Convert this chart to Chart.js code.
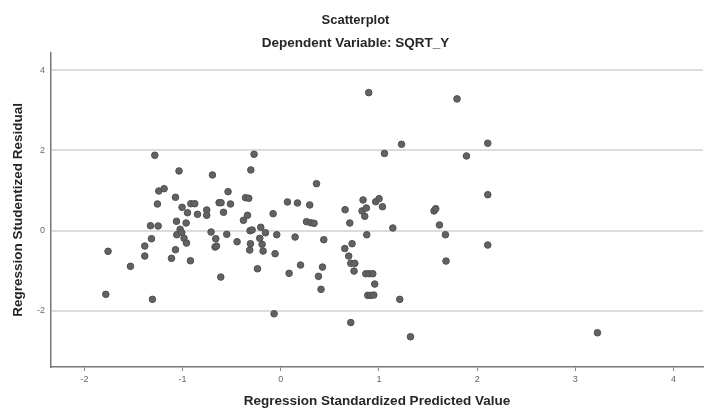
<!DOCTYPE html>
<html>
<head>
<meta charset="utf-8">
<script src="https://cdn.jsdelivr.net/npm/chart.js@4/dist/chart.umd.min.js"></script>
<style>
  html, body { margin: 0; padding: 0; background: #fff; }
  #chart { display: block; }
</style>
</head>
<body>
<canvas id="chart" width="704" height="410"></canvas>
<script>
// Regression Standardized Predicted Value
var predicted = [
    -1.782, -1.759, -1.531, -1.385, -1.385, -1.327, -1.307, -1.317, -1.283, -1.256,
    -1.249, -1.242, -1.188, -1.113, -1.072, -1.072, -1.062, -1.059, -1.036, -1.025,
    -1.008, -1.005, -0.985, -0.964, -0.960, -0.950, -0.920, -0.916, -0.876, -0.848,
    -0.754, -0.754, -0.710, -0.696, -0.669, -0.662, -0.655, -0.628, -0.611, -0.608,
    -0.583, -0.550, -0.537, -0.512, -0.445, -0.380, -0.359, -0.339, -0.326, -0.316,
    -0.313, -0.309, -0.305, -0.292, -0.272, -0.237, -0.214, -0.204, -0.190, -0.180,
    -0.156, -0.078, -0.068, -0.058, -0.041, 0.068, 0.085, 0.146, 0.170, 0.201,
    0.262, 0.295, 0.305, 0.339, 0.364, 0.384, 0.410, 0.425, 0.438, 0.655,
    0.652, 0.692, 0.703, 0.713, 0.713, 0.726, 0.746, 0.754, 0.828, 0.838,
    0.855, 0.871, 0.876, 0.866, 0.901, 0.937, 0.886, 0.916, 0.947, 0.896,
    0.957, 0.967, 1.001, 1.036, 1.056, 1.141, 1.212, 1.230, 1.321, 1.561,
    1.578, 1.616, 1.677, 1.683, 1.795, 1.891, 2.108, 2.108, 2.108, 3.225
];
// Regression Studentized Residual
var residual = [
    -1.595, -0.520, -0.895, -0.388, -0.638, 0.120, -1.720, -0.205, 1.880, 0.663,
    0.113, 0.988, 1.045, -0.695, 0.830, -0.480, 0.230, -0.105, 1.488, 0.030,
    -0.055, 0.580, -0.195, 0.188, -0.313, 0.445, -0.755, 0.670, 0.670, 0.405,
    0.513, 0.380, -0.038, 1.388, -0.413, -0.205, -0.388, 0.695, -1.163, 0.695,
    0.455, -0.095, 0.970, 0.663, -0.280, 0.255, 0.820, 0.380, 0.805, -0.488,
    -0.005, -0.330, 1.513, 0.013, 1.905, -0.955, -0.195, 0.080, -0.345, -0.513,
    -0.055, 0.420, -2.080, -0.580, -0.105, 0.713, -1.070, -0.163, 0.688, -0.863,
    0.220, 0.638, 0.195, 0.180, 1.170, -1.145, -1.470, -0.913, -0.230, 0.520,
    -0.450, -0.638, 0.188, -2.300, -0.820, -0.330, -1.013, -0.820, 0.488, 0.763,
    0.355, 0.563, -0.105, -1.080, -1.080, -1.080, -1.620, -1.620, -1.613, 3.445,
    -1.338, 0.720, 0.795, 0.595, 1.925, 0.063, -1.720, 2.155, -2.655, 0.488,
    0.545, 0.138, -0.105, -0.763, 3.288, 1.863, 2.180, 0.895, -0.363, -2.555
];
var xTicks = [-2, -1, 0, 1, 2, 3, 4];
var yTicks = [-2, 0, 2, 4];

var points = predicted.map(function(x, i) {
    return { x: x, y: residual[i] };
});

var font = "'Liberation Sans', Arial, sans-serif";

var ctx = document.getElementById("chart").getContext("2d");
new Chart(ctx, {
    type: "scatter",
    data: {
        datasets: [{
            data: points,
            backgroundColor: "#626262",
            borderColor: "#505050",
            borderWidth: 1,
            pointRadius: 3.3,
            pointHoverRadius: 3.3
        }]
    },
    options: {
        responsive: false,
        animation: false,
        events: [],
        layout: {
            autoPadding: false,
            padding: { left: 8, right: 1, top: 6, bottom: 1 }
        },
        plugins: {
            legend: { display: false },
            tooltip: { enabled: false },
            title: {
                display: true,
                text: "Scatterplot",
                color: "#262626",
                font: { family: font, size: 13, weight: "bold" },
                padding: { top: 7, bottom: 7 }
            },
            subtitle: {
                display: true,
                text: "Dependent Variable: SQRT_Y",
                color: "#262626",
                font: { family: font, size: 13.5, weight: "bold" },
                padding: { top: 0, bottom: 1 }
            }
        },
        scales: {
            x: {
                type: "linear",
                min: -2.34,
                max: 4.3,
                afterBuildTicks: function(scale) {
                    scale.ticks = xTicks.map(function(v) { return { value: v }; });
                },
                afterFit: function(scale) {
                    scale.height = 42;
                    scale.paddingLeft = 0;
                    scale.paddingRight = 0;
                },
                ticks: {
                    color: "#666",
                    font: { family: font, size: 9 },
                    padding: 3,
                    maxRotation: 0
                },
                grid: {
                    drawOnChartArea: false,
                    drawTicks: true,
                    tickLength: 4,
                    color: "#888"
                },
                border: { color: "#777", width: 1.5 },
                title: {
                    display: true,
                    text: "Regression Standardized Predicted Value",
                    color: "#262626",
                    font: { family: font, size: 13.5, weight: "bold" },
                    padding: { top: 6, bottom: 0 }
                }
            },
            y: {
                type: "linear",
                min: -3.41,
                max: 4.44,
                afterBuildTicks: function(scale) {
                    scale.ticks = yTicks.map(function(v) { return { value: v }; });
                },
                afterFit: function(scale) {
                    scale.width = 43;
                    scale.paddingTop = 0;
                    scale.paddingBottom = 0;
                },
                ticks: {
                    color: "#666",
                    font: { family: font, size: 9 },
                    padding: 6
                },
                grid: {
                    color: "#dcdcdc",
                    lineWidth: 2,
                    drawTicks: false
                },
                border: { color: "#777", width: 1.5 },
                title: {
                    display: true,
                    text: "Regression Studentized Residual",
                    color: "#262626",
                    font: { family: font, size: 13.5, weight: "bold" },
                    padding: { top: 2, bottom: 4 }
                }
            }
        }
    }
});
</script>
</body>
</html>
